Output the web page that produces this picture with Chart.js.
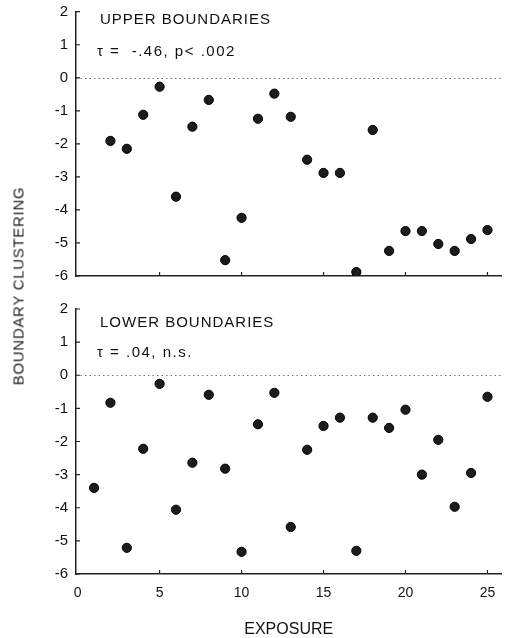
<!DOCTYPE html>
<html lang="en">
<head>
<meta charset="UTF-8">
<title>Boundary Clustering</title>
<script src="https://cdn.jsdelivr.net/npm/chart.js@4.4.1/dist/chart.umd.min.js"></script>
<style>
  html, body { margin: 0; padding: 0; background: #fff; }
  #wrap { position: relative; width: 507px; height: 638px; overflow: hidden; }
  canvas { position: absolute; left: 0; }
  #upper { top: 0; }
  #lower { top: 290px; }
  #ytitle {
    position: absolute; left: 18px; top: 286px;
    transform: translate(-50%, -50%) rotate(-90deg);
    font: 15px "Liberation Sans", Arial, sans-serif;
    letter-spacing: 0.7px; color: #222; white-space: nowrap;
  }
</style>
</head>
<body>
<div id="wrap">
  <canvas id="upper" width="507" height="290"></canvas>
  <canvas id="lower" width="507" height="348"></canvas>
  <div id="ytitle">BOUNDARY CLUSTERING</div>
</div>
<script>
const xTickValues = [0, 5, 10, 15, 20, 25];
const yTickValues = [2, 1, 0, -1, -2, -3, -4, -5, -6];

const upperExposure = [2, 3, 4, 5, 6, 7, 8, 9, 10, 11, 12, 13, 14, 15, 16, 17, 18, 19, 20, 21, 22, 23, 24, 25];
const upperClustering = [-1.91, -2.15, -1.12, -0.27, -3.6, -1.48, -0.67, -5.52, -4.24, -1.24, -0.48, -1.18,
                         -2.48, -2.88, -2.88, -5.88, -1.58, -5.24, -4.64, -4.64, -5.03, -5.24, -4.88, -4.61];

const lowerExposure = [1, 2, 3, 4, 5, 6, 7, 8, 9, 10, 11, 12, 13, 14, 15, 16, 17, 18, 19, 20, 21, 22, 23, 24, 25];
const lowerClustering = [-3.4, -0.83, -5.21, -2.22, -0.26, -4.06, -2.64, -0.59, -2.82, -5.33, -1.48, -0.53, -4.58,
                         -2.25, -1.53, -1.28, -5.3, -1.28, -1.59, -1.04, -3.0, -1.95, -3.97, -2.95, -0.65];

const upperNotes = ['UPPER BOUNDARIES', 'τ =  -.46, p< .002'];
const lowerNotes = ['LOWER BOUNDARIES', 'τ = .04, n.s.'];

const FONT = '"Liberation Sans", Arial, Helvetica, sans-serif';

// dotted zero line, inward tick marks and the panel notes
const panelDecor = {
  id: 'panelDecor',
  beforeDatasetsDraw(chart, args, opts) {
    const {ctx, chartArea, scales: {x, y}} = chart;
    ctx.save();
    const y0 = Math.round(y.getPixelForValue(0)) + 0.5;
    ctx.strokeStyle = '#777';
    ctx.lineWidth = 1;
    ctx.setLineDash([1.5, 3]);
    ctx.beginPath();
    ctx.moveTo(chartArea.left, y0);
    ctx.lineTo(chartArea.right, y0);
    ctx.stroke();
    ctx.setLineDash([]);

    ctx.strokeStyle = '#222';
    ctx.lineWidth = 1.2;
    ctx.beginPath();
    yTickValues.forEach(v => {
      const p = y.getPixelForValue(v);
      ctx.moveTo(chartArea.left, p);
      ctx.lineTo(chartArea.left + 4, p);
    });
    xTickValues.slice(1).forEach(v => {
      const p = x.getPixelForValue(v);
      ctx.moveTo(p, chartArea.bottom);
      ctx.lineTo(p, chartArea.bottom - 4);
    });
    ctx.stroke();

    ctx.fillStyle = '#111';
    ctx.textBaseline = 'alphabetic';
    ctx.font = '15px ' + FONT;
    ctx.letterSpacing = '1px';
    ctx.fillText(opts.notes[0], 100, opts.baselines[0]);
    ctx.letterSpacing = '1.5px';
    ctx.fillText(opts.notes[1], 97, opts.baselines[1]);
    ctx.letterSpacing = '0px';
    ctx.restore();
  }
};

function toPoints(xs, ys) {
  return xs.map((v, i) => ({x: v, y: ys[i]}));
}

function makePanel(id, xs, ys, notes, baselines, padTop, xHeight, showX) {
  return new Chart(id, {
    type: 'scatter',
    data: {
      datasets: [{
        data: toPoints(xs, ys),
        pointRadius: 4.6,
        pointHoverRadius: 4.6,
        backgroundColor: '#1c1c1c',
        borderColor: '#000',
        borderWidth: 1
      }]
    },
    options: {
      responsive: false,
      animation: false,
      layout: {padding: {top: padTop, right: 0, bottom: 0, left: 0}},
      plugins: {
        legend: {display: false},
        tooltip: {enabled: false},
        panelDecor: {notes: notes, baselines: baselines}
      },
      scales: {
        x: {
          type: 'linear',
          min: -0.1,
          max: 25.85,
          afterBuildTicks: s => { s.ticks = xTickValues.map(v => ({value: v})); },
          afterFit: s => { s.height = xHeight; s.paddingLeft = 0; s.paddingRight = 0; },
          grid: {display: false, drawTicks: false},
          border: {display: true, color: '#222', width: 1.5},
          ticks: {display: showX, padding: 11, color: '#111', font: {family: FONT, size: 14}},
          title: {
            display: showX, text: 'EXPOSURE', color: '#111',
            font: {family: FONT, size: 16, lineHeight: 1}, padding: {top: 0, bottom: 0}
          }
        },
        y: {
          min: -6,
          max: 2,
          afterBuildTicks: s => { s.ticks = yTickValues.map(v => ({value: v})); },
          afterFit: s => { s.width = 76; s.paddingTop = 0; s.paddingBottom = 0; },
          grid: {display: false, drawTicks: false},
          border: {display: true, color: '#222', width: 1.5},
          ticks: {padding: 8, color: '#111', font: {family: FONT, size: 15}}
        }
      }
    },
    plugins: [panelDecor]
  });
}

makePanel('upper', upperExposure, upperClustering, upperNotes, [24, 56], 11.7, 14, false);
makePanel('lower', lowerExposure, lowerClustering, lowerNotes, [37, 67], 19, 64, true);
</script>
</body>
</html>
